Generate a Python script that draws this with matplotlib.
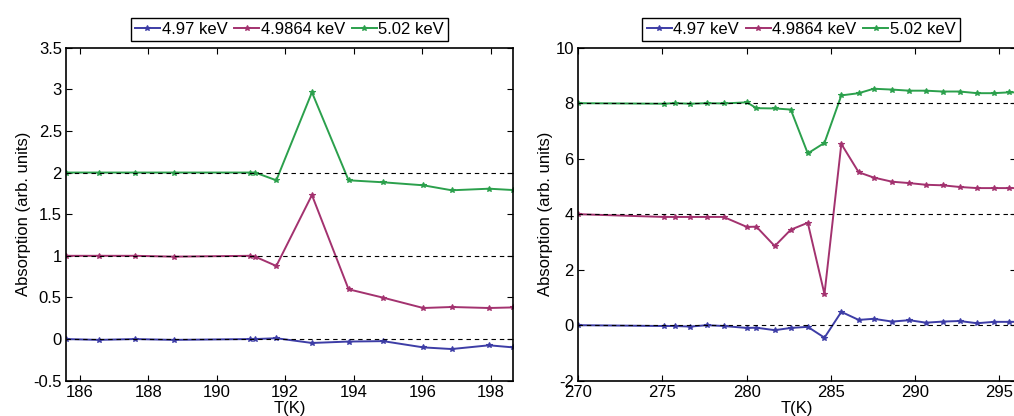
import numpy as np
import matplotlib
matplotlib.use("Agg")
import matplotlib.pyplot as plt

plt.rcParams['font.family'] = ['Liberation Sans', 'DejaVu Sans']
plt.rcParams['font.size'] = 12

labels = ["4.97 keV", "4.9864 keV", "5.02 keV"]
colors = ["#3d3da6", "#a3326f", "#2ba04c"]

# left panel: cooling around 192 K
t_low = [185.6, 186.55, 187.6, 188.74, 190.98, 191.12, 191.74, 192.78,
         193.85, 194.86, 196.03, 196.86, 197.95, 198.65]
low_497 = [0.0, -0.01, 0.0, -0.01, 0.0, 0.0, 0.01, -0.047,
           -0.03, -0.025, -0.10, -0.12, -0.075, -0.10]
low_4986 = [1.0, 1.0, 1.0, 0.99, 1.0, 0.99, 0.878, 1.73,
            0.598, 0.497, 0.373, 0.385, 0.373, 0.38]
low_502 = [2.0, 2.0, 2.0, 2.0, 2.0, 2.0, 1.907, 2.964,
           1.907, 1.883, 1.847, 1.787, 1.806, 1.79]
low_base = [0, 1, 2]

# right panel: transition around 285 K
t_high = [270.0, 275.08, 275.73, 276.66, 277.65, 278.64, 280.02, 280.58,
          281.67, 282.62, 283.63, 284.62, 285.62, 286.65, 287.54, 288.63,
          289.65, 290.64, 291.63, 292.64, 293.67, 294.66, 295.55, 296.5]
high_497 = [0.0, -0.03, -0.03, -0.05, 0.0, -0.03, -0.1, -0.09,
            -0.18, -0.1, -0.06, -0.45, 0.48, 0.19, 0.23, 0.13,
            0.18, 0.09, 0.13, 0.15, 0.07, 0.12, 0.12, 0.12]
high_4986 = [4.0, 3.9, 3.9, 3.9, 3.9, 3.9, 3.54, 3.55,
             2.85, 3.44, 3.69, 1.12, 6.53, 5.51, 5.32, 5.17,
             5.12, 5.06, 5.04, 4.98, 4.94, 4.94, 4.94, 4.94]
high_502 = [8.0, 7.98, 8.0, 7.98, 8.0, 7.99, 8.03, 7.82,
            7.81, 7.77, 6.19, 6.57, 8.28, 8.36, 8.52, 8.49,
            8.45, 8.45, 8.42, 8.42, 8.36, 8.36, 8.39, 8.39]
high_base = [0, 4, 8]

fig = plt.figure(figsize=(10.14, 4.16), dpi=100)
ax1 = fig.add_axes([0.0651, 0.0849, 0.4408, 0.8005])
ax2 = fig.add_axes([0.5700, 0.0849, 0.4323, 0.8005])

panels = [
    (ax1, t_low, [low_497, low_4986, low_502], low_base,
     (185.6, 198.65), (-0.5, 3.5), np.arange(186, 199, 2), np.arange(-0.5, 3.6, 0.5), 0.5),
    (ax2, t_high, [high_497, high_4986, high_502], high_base,
     (270, 296), (-2, 10), np.arange(270, 296, 5), np.arange(-2, 11, 2), 0.509),
]

for ax, t, series, base, xl, yl, xt, yt, lx in panels:
    for y, c, lab in zip(series, colors, labels):
        ax.plot(t, y, '-', marker='*', ms=4, mew=0.8, lw=1.4, color=c, label=lab)
    for b in base:
        ax.axhline(b, color='black', lw=0.8, dashes=(4, 3.5), zorder=3)
    ax.set_xlim(*xl)
    ax.set_ylim(*yl)
    ax.set_xticks(xt)
    ax.set_yticks(yt)
    ax.set_yticklabels(['%g' % v for v in yt])
    ax.tick_params(direction='in', top=True, right=True, length=4, width=0.8, pad=3)
    for s in ax.spines.values():
        s.set_linewidth(1.2)
    ax.set_xlabel('T(K)', labelpad=1)
    ax.set_ylabel('Absorption (arb. units)', labelpad=2)
    leg = ax.legend(loc='lower center', bbox_to_anchor=(lx, 1.02), ncol=3,
                    fancybox=False, edgecolor='black', framealpha=1,
                    handlelength=1.5, handletextpad=0.1, columnspacing=0.4,
                    borderpad=0.25, borderaxespad=0)
    leg.get_frame().set_linewidth(1.0)

fig.savefig('out.png', dpi=100)
